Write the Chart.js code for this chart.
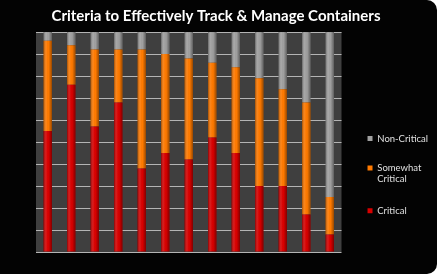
<!DOCTYPE html>
<html>
<head>
<meta charset="utf-8">
<script src="https://cdn.jsdelivr.net/npm/chart.js@4/dist/chart.umd.min.js"></script>
<style>
  html, body { margin: 0; padding: 0; background: #fff; }
  #box { position: absolute; left: 0; top: 0; width: 437px; height: 274px; background: #030303;
         border-radius: 0 10px 10px 0; overflow: hidden; }
</style>
</head>
<body>
<div id="box"><canvas id="myChart" width="437" height="274"></canvas></div>
<script>
const categories = ["Criterion 1","Criterion 2","Criterion 3","Criterion 4","Criterion 5","Criterion 6","Criterion 7",
  "Criterion 8","Criterion 9","Criterion 10","Criterion 11","Criterion 12","Criterion 13"];
const critical       = [55, 76, 57, 68, 38, 45, 42, 52, 45, 30, 30, 17, 8];
const somewhatCrit   = [41, 18, 35, 24, 54, 45, 46, 34, 39, 49, 44, 51, 17];
const nonCritical    = [4, 6, 8, 8, 8, 10, 12, 14, 16, 21, 26, 32, 75];
const yTicks = [0, 10, 20, 30, 40, 50, 60, 70, 80, 90, 100];

// dark plot area behind the bars
const plotBg = {
  id: "plotBg",
  beforeDraw(chart) {
    const a = chart.chartArea, ctx = chart.ctx;
    ctx.save();
    ctx.fillStyle = "#3f3f3f";
    ctx.fillRect(a.left, a.top, a.right - a.left, a.bottom - a.top);
    ctx.restore();
  }
};

// push the legend a little further from the plot
const legendNudge = {
  id: "legendNudge",
  afterLayout(chart) {
    chart.legend.left += 6;
    chart.legend.right += 6;
  }
};

// rounded "tube" shading over the bars
const barShade = {
  id: "barShade",
  afterDatasetsDraw(chart) {
    const ctx = chart.ctx;
    chart.data.datasets.forEach((ds, i) => {
      chart.getDatasetMeta(i).data.forEach(bar => {
        const w = bar.width, x0 = bar.x - w / 2;
        const top = Math.min(bar.y, bar.base), h = Math.abs(bar.base - bar.y);
        const g = ctx.createLinearGradient(x0, 0, x0 + w, 0);
        g.addColorStop(0, "rgba(0,0,0,0.35)");
        g.addColorStop(0.35, "rgba(255,255,255,0.08)");
        g.addColorStop(0.6, "rgba(0,0,0,0)");
        g.addColorStop(1, "rgba(0,0,0,0.4)");
        ctx.save();
        ctx.fillStyle = g;
        ctx.fillRect(x0, top, w, h);
        ctx.restore();
      });
    });
  }
};

new Chart("myChart", {
  type: "bar",
  data: {
    labels: categories,
    datasets: [
      { label: "Critical", data: critical, backgroundColor: "#d80000" },
      { label: ["Somewhat", "Critical"], data: somewhatCrit, backgroundColor: "#ff7a00" },
      { label: "Non-Critical", data: nonCritical, backgroundColor: "#a0a0a0" }
    ]
  },
  options: {
    responsive: false,
    animation: false,
    layout: { padding: { left: 0, right: 5, top: 0, bottom: 22 } },
    datasets: { bar: { barPercentage: 0.36, categoryPercentage: 1 } },
    scales: {
      x: { stacked: true, display: false },
      y: {
        stacked: true, min: 0, max: 100,
        afterBuildTicks: ax => { ax.ticks = yTicks.map(v => ({ value: v })); },
        afterFit: ax => { ax.width = 36; },
        ticks: { display: false },
        border: { display: false },
        grid: { color: "#b4b4b4", lineWidth: 1, drawTicks: false }
      }
    },
    plugins: {
      title: {
        display: true,
        text: "Criteria to Effectively Track & Manage Containers",
        color: "#ffffff",
        font: { family: "Lato", size: 15, weight: "bold" },
        padding: { top: 7, bottom: 7 }
      },
      legend: {
        position: "right",
        reverse: true,
        title: { display: true, text: "", font: { size: 1 }, padding: { top: 96, bottom: 0 } },
        labels: {
          color: "#e0e0e0",
          font: { family: "Lato", size: 9.5 },
          boxWidth: 5, boxHeight: 5,
          padding: 20
        }
      },
      tooltip: { enabled: false }
    }
  },
  plugins: [plotBg, barShade, legendNudge]
});
</script>
</body>
</html>
